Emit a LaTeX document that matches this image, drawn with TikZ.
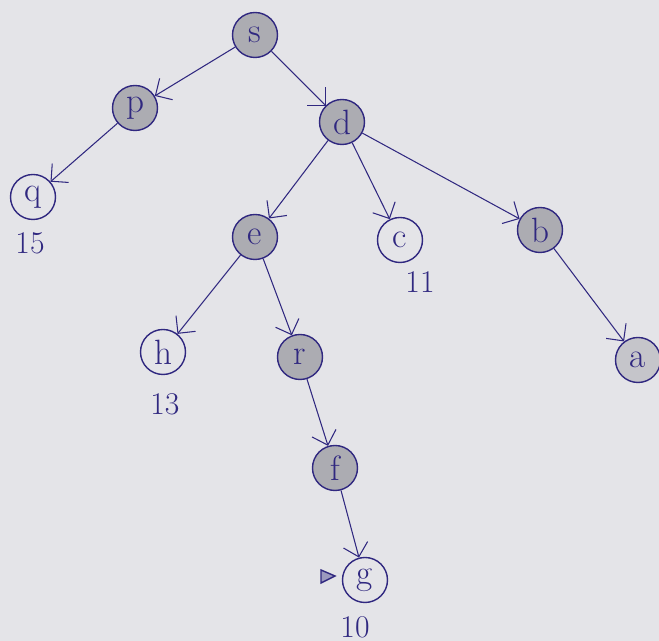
\documentclass[tikz,border=0pt]{standalone}
\usetikzlibrary{arrows.meta}
\definecolor{ink}{RGB}{48,40,128}
\definecolor{paper}{RGB}{228,228,232}
\definecolor{shade}{RGB}{172,172,178}
\tikzset{
    vtx/.style={circle, draw=ink, thick, minimum size=0.9cm, inner sep=0pt, text=ink, font=\fontsize{20}{24}\selectfont},
    seen/.style={vtx, fill=shade},
    open/.style={vtx, fill=paper},
    edge/.style={draw=ink, semithick, -{Straight Barb[length=2.5mm]}},
    cost/.style={text=ink, font=\fontsize{18}{22}\selectfont}
}
\begin{document}
\begin{tikzpicture}
        
        % paper
        \fill[paper] (0,0) rectangle (13.18,12.82);
        \useasboundingbox (0,0) rectangle (13.18,12.82);
        
        % nodes
        \node[seen] (s) at (5.10,12.12) {s};
        \node[seen] (p) at (2.70,10.66) {p};
        \node[seen] (d) at (6.84,10.38) {d};
        \node[open] (q) at (0.66,8.88) {q};
        \node[seen] (e) at (5.10,8.08) {e};
        \node[open] (c) at (8.00,8.02) {c};
        \node[seen] (b) at (10.80,8.22) {b};
        \node[open] (h) at (3.26,5.78) {h};
        \node[seen] (r) at (6.00,5.68) {r};
        \node[seen, fill=shade!55!paper] (a) at (12.76,5.62) {a};
        \node[seen] (f) at (6.70,3.46) {f};
        \node[open] (g) at (7.30,1.22) {g};
        
        % edges
        \draw[edge] (s) -- (p);
        \draw[edge] (s) -- (d);
        \draw[edge] (p) -- (q);
        \draw[edge] (d) -- (e);
        \draw[edge] (d) -- (c);
        \draw[edge] (d) -- (b);
        \draw[edge] (e) -- (h);
        \draw[edge] (e) -- (r);
        \draw[edge] (b) -- (a);
        \draw[edge] (r) -- (f);
        \draw[edge] (f) -- (g);
        
        % costs
        \node[cost] (cq) at (0.60,7.96) {15};
        \node[cost] (cc) at (8.40,7.18) {11};
        \node[cost] (ch) at (3.30,4.74) {13};
        \node[cost] (cg) at (7.10,0.28) {10};
        
        % goal mark
        \draw[ink, thick, fill=ink!40!paper] (6.42,1.42) -- (6.70,1.30) -- (6.42,1.16) -- cycle;
    \end{tikzpicture}
\end{document}
